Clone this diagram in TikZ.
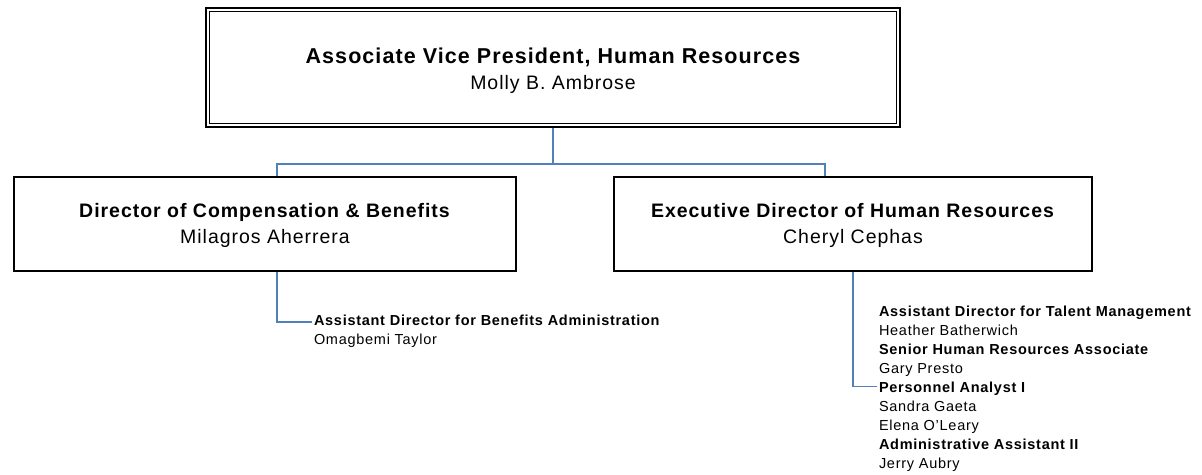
\documentclass[tikz,border=0pt]{standalone}
\usepackage{fontspec}
\newfontfamily\orgfont{Liberation Sans}[LetterSpace=5]
\usetikzlibrary{positioning}
\definecolor{linkblue}{RGB}{79,129,189}

\begin{document}
\begin{tikzpicture}[x=1pt, y=-1pt,
                    box/.style={draw, line width=2pt, inner sep=0pt, outer sep=0pt, align=center,
                                font=\orgfont\fontsize{19.5}{26}\selectfont},
                    topbox/.style={box, line width=1.6pt, double, double distance=2.2pt},
                    link/.style={draw=linkblue, line width=1.5pt},
                    staff/.style={anchor=west, align=left, inner sep=0pt, outer sep=2pt,
                                  font=\orgfont\fontsize{14.5}{19}\selectfont}
                    ]
  \useasboundingbox (0,0) rectangle (1202,474);
  % boxes
  \node[topbox, minimum width=690.6pt, minimum height=115.6pt] (avp) at (553,67.5)
    {\rule{0pt}{22.5pt}{\fontsize{21.5}{26}\selectfont\bfseries Associate Vice President, Human Resources}\\ Molly B. Ambrose};
  \node[box, minimum width=502.3pt, minimum height=94pt] (cb) at (265,224)
    {\rule{0pt}{18pt}\textbf{Director of Compensation \& Benefits}\\ Milagros Aherrera};
  \node[box, minimum width=478.3pt, minimum height=94pt] (hr) at (853,224)
    {\rule{0pt}{18pt}\textbf{Executive Director of Human Resources}\\ Cheryl Cephas};
  % staff lists
  \node[staff] (ben) at (312,331) {\textbf{Assistant Director for Benefits Administration}\\ Omagbemi Taylor};
  \node[staff] (tal) at (877,388.5) {\textbf{Assistant Director for Talent Management}\\ Heather Batherwich\\
    \textbf{Senior Human Resources Associate}\\ Gary Presto\\ \textbf{Personnel Analyst I}\\ Sandra Gaeta\\
    Elena O’Leary\\ \textbf{Administrative Assistant II}\\ Jerry Aubry};
  % connectors
  \coordinate (bus) at (553,164);
  \draw[link] ([yshift=-2.7pt]avp.south) -- (bus);
  \draw[link, shorten >=1pt] (bus) -| ([xshift=12pt]cb.north);
  \draw[link, shorten >=1pt] (bus) -| ([xshift=-28pt]hr.north);
  \draw[link] ([xshift=12pt,yshift=-1pt]cb.south) |- ([yshift=9pt]ben.west);
  \draw[link] ([yshift=-1pt]hr.south) |- ([yshift=2pt]tal.west);
\end{tikzpicture}
\end{document}
